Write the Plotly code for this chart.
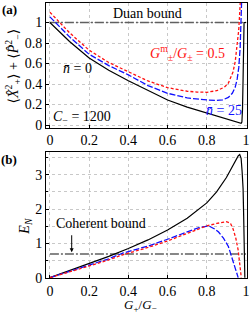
import plotly.graph_objects as go

# ---------------- data: panel (a) ----------------
xa_black = [0, 0.1, 0.2, 0.3, 0.4, 0.5, 0.6, 0.7, 0.8, 0.85, 0.9, 0.93, 0.95, 0.96, 0.97, 0.975, 0.979, 0.982, 0.985, 0.988, 0.99, 1.0]
ya_black = [1.0, 0.815, 0.655, 0.535, 0.433, 0.335, 0.245, 0.175, 0.12, 0.09, 0.06, 0.045, 0.034, 0.028, 0.02, 0.018, 0.03, 0.15, 0.45, 0.8, 1.0, 1.0]

xa_red = [0, 0.1, 0.2, 0.3, 0.4, 0.5, 0.6, 0.7, 0.75, 0.8, 0.85, 0.89, 0.91, 0.934, 0.945, 0.951, 0.958, 0.963, 0.968, 0.972]
ya_red = [1.10, 0.90, 0.73, 0.61, 0.52, 0.43, 0.365, 0.33, 0.322, 0.32, 0.335, 0.37, 0.41, 0.52, 0.62, 0.72, 0.82, 0.93, 1.10, 1.25]

xa_blue = [0, 0.1, 0.2, 0.3, 0.4, 0.5, 0.6, 0.7, 0.8, 0.85, 0.88, 0.91, 0.93, 0.945, 0.955, 0.963, 0.97, 0.974, 0.977, 0.98]
ya_blue = [1.055, 0.86, 0.69, 0.58, 0.49, 0.385, 0.31, 0.265, 0.245, 0.24, 0.245, 0.27, 0.31, 0.37, 0.45, 0.56, 0.75, 0.95, 1.2, 1.35]

# ---------------- data: panel (b) ----------------
xb_black = [0, 0.1, 0.2, 0.3, 0.4, 0.5, 0.6, 0.7, 0.8, 0.85, 0.9, 0.93, 0.95, 0.96, 0.968, 0.975, 0.98, 0.985, 0.988, 0.99, 0.992, 0.994]
yb_black = [0, 0.2, 0.405, 0.62, 0.85, 1.1, 1.39, 1.73, 2.18, 2.5, 2.92, 3.25, 3.47, 3.55, 3.59, 3.48, 3.1, 2.6, 1.8, 1.0, 0.3, 0.0]

xb_red = [0, 0.1, 0.2, 0.3, 0.374, 0.5, 0.6, 0.7, 0.76, 0.8, 0.85, 0.9, 0.92, 0.934, 0.948, 0.96, 0.968, 0.974, 0.976]
yb_red = [0, 0.165, 0.34, 0.52, 0.67, 0.88, 1.07, 1.29, 1.43, 1.51, 1.58, 1.63, 1.59, 1.42, 1.15, 0.8, 0.4, 0.05, 0.0]

xb_blue = [0, 0.1, 0.2, 0.3, 0.374, 0.5, 0.6, 0.7, 0.76, 0.81, 0.84, 0.86, 0.885, 0.91, 0.93, 0.943, 0.953, 0.96]
yb_blue = [0, 0.18, 0.37, 0.55, 0.72, 0.92, 1.12, 1.33, 1.46, 1.51, 1.42, 1.33, 1.15, 0.91, 0.55, 0.33, 0.12, 0.0]

bound_x = [0, 1]
duan_bound = [1, 1]
coherent_bound = [0.69, 0.69]

x_ticks = [0, 0.2, 0.4, 0.6, 0.8, 1]
ya_ticks = [0, 0.2, 0.4, 0.6, 0.8, 1]
yb_ticks = [0, 1, 2, 3]

FONT = "Liberation Serif, Times New Roman, DejaVu Serif, serif"
RED = "#ff1010"
BLUE = "#1010ff"
GRAY = "#606060"

fig = go.Figure()

def line(x, y, color, dash, width, xa, ya):
    fig.add_trace(go.Scatter(x=x, y=y, mode="lines", xaxis=xa, yaxis=ya,
                             line=dict(color=color, dash=dash, width=width),
                             showlegend=False, hoverinfo="skip"))

bdash = "9px,2px,2px,2px"
line(bound_x, duan_bound, GRAY, bdash, 1.5, "x", "y")
line(xa_black, ya_black, "black", "solid", 1.2, "x", "y")
line(xa_blue, ya_blue, BLUE, "6px,2px", 1.3, "x", "y")
line(xa_red, ya_red, RED, "3px,2px", 1.3, "x", "y")

line(bound_x, coherent_bound, GRAY, bdash, 1.5, "x2", "y2")
line(xb_black, yb_black, "black", "solid", 1.2, "x2", "y2")
line(xb_blue, yb_blue, BLUE, "6px,2px", 1.3, "x2", "y2")
line(xb_red, yb_red, RED, "3px,2px", 1.3, "x2", "y2")

axis_common = dict(showline=True, mirror=True, linecolor="black", linewidth=1,
                   ticks="inside", ticklen=3, tickcolor="black",
                   showgrid=True, gridcolor="#c8c8c8", griddash="dot", gridwidth=1,
                   zeroline=False, tickfont=dict(family=FONT, size=14, color="black"))

fig.update_layout(
    width=252, height=313,
    margin=dict(l=46, r=3, t=2, b=35),
    paper_bgcolor="white", plot_bgcolor="white",
    font=dict(family=FONT, size=14, color="black"),
    xaxis=dict(domain=[0, 1], range=[-0.02, 1.005], tickvals=x_ticks, anchor="y", **axis_common),
    yaxis=dict(domain=[0.547, 1], range=[-0.024, 1.19], tickvals=ya_ticks, anchor="x", **axis_common),
    xaxis2=dict(domain=[0, 1], range=[-0.02, 1.005], tickvals=x_ticks, anchor="y2", **axis_common),
    yaxis2=dict(domain=[0, 0.4565], range=[-0.01, 3.65], tickvals=yb_ticks, anchor="x2",
                minor=dict(dtick=0.5, showgrid=True, gridcolor="#c8c8c8", griddash="dot", ticks="inside", ticklen=2),
                **axis_common),
)

ann = []
def txt(text, x, y, xref, yref, color="black", size=14, xanchor="center", angle=0):
    ann.append(dict(text=text, x=x, y=y, xref=xref, yref=yref, showarrow=False,
                    font=dict(family=FONT, size=size, color=color), xanchor=xanchor,
                    yanchor="middle", textangle=angle))

# panel labels
txt("<b>(a)</b>", -0.182, 0.975, "paper", "paper", size=13)
txt("<b>(b)</b>", -0.182, 0.432, "paper", "paper", size=13)
# axis titles
txt("⟨<i>X̂</i><sup>2</sup><sub>+</sub>⟩ + ⟨<i>P̂</i><sup>2</sup><sub>−</sub>⟩", -0.165, 0.772, "paper", "paper", angle=-90)
txt("<i>E</i><sub><i>N</i></sub>", -0.10, 0.19, "paper", "paper", angle=-90)
txt("<i>G</i><sub>+</sub>/<i>G</i><sub>−</sub>", 0.47, -0.099, "paper", "paper", size=13)
# panel (a) texts
txt("Duan bound", 0.50, 1.085, "x", "y")
txt("<i>G</i><sup>m</sup><sub>±</sub>/<i>G</i><sub>±</sub> = 0.5", 0.70, 0.70, "x", "y", color=RED)
txt("<i>n̄</i> = 25", 0.99, 0.14, "x", "y", color=BLUE, xanchor="right")
txt("<i>n̄</i> = 0", 0.14, 0.55, "x", "y")
txt("<i>C</i><sub>−</sub> = 1200", 0.165, 0.075, "x", "y")
# panel (b) texts
txt("Coherent bound", 0.26, 1.57, "x2", "y2")
ann.append(dict(x=0.111, y=0.74, ax=0.111, ay=1.28, xref="x2", yref="y2", axref="x2", ayref="y2",
                text="", showarrow=True, arrowhead=2, arrowsize=0.8, arrowwidth=1, arrowcolor="black"))
fig.update_layout(annotations=ann)

fig.write_html("out.html", config={"displayModeBar": False},
               post_script="document.body.style.margin='0';document.body.style.overflow='hidden';")
